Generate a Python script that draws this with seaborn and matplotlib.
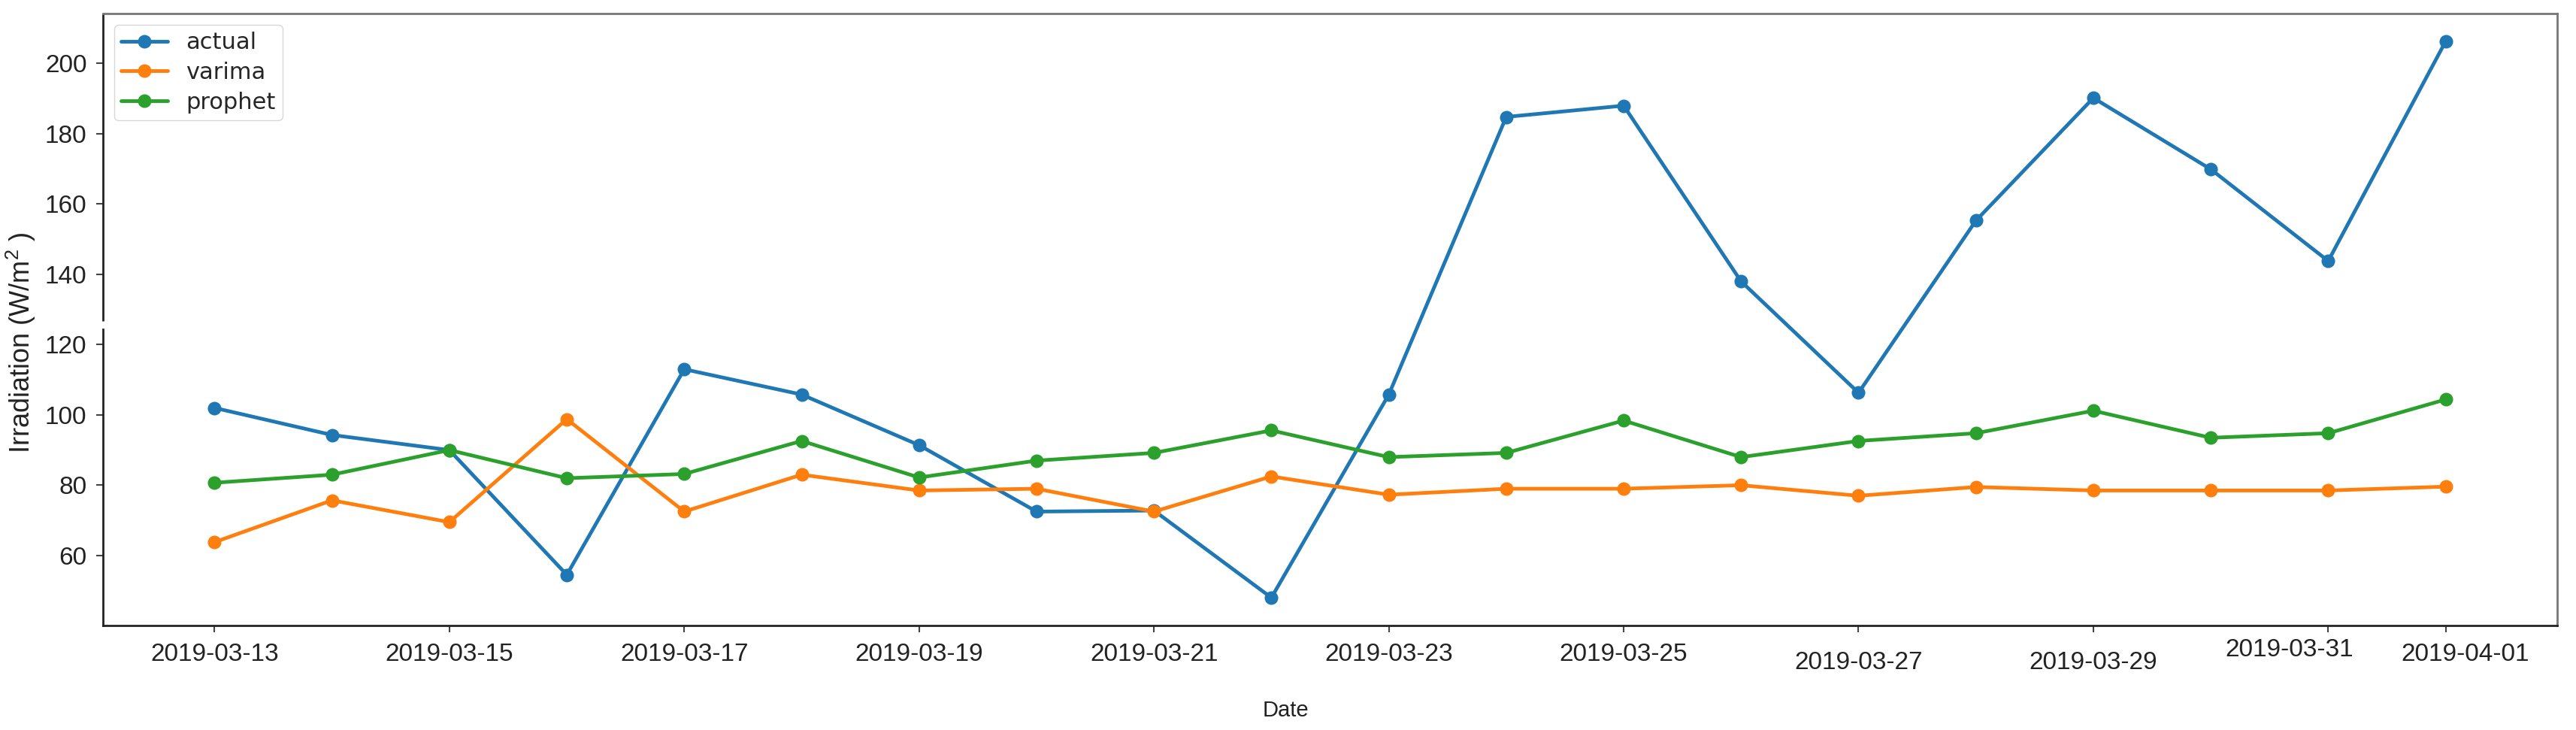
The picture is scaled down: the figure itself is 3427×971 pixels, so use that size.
import pandas as pd
import seaborn as sns
import matplotlib.pyplot as plt
from matplotlib.transforms import ScaledTranslation

# Dados
datas = pd.date_range('2019-03-13', '2019-04-01', freq='D')
actual = [102.0, 94.3, 90.0, 54.5, 113.0, 105.8, 91.4, 72.5, 72.8, 48.0,
          105.8, 184.8, 188.0, 138.0, 106.3, 155.3, 190.2, 169.9, 143.8, 206.3]
varima = [63.8, 75.7, 69.5, 98.8, 72.5, 83.0, 78.5, 79.0, 72.5, 82.5,
          77.3, 79.0, 79.0, 80.0, 77.0, 79.5, 78.5, 78.5, 78.5, 79.6]
prophet = [80.7, 83.0, 90.0, 82.0, 83.2, 92.6, 82.2, 87.0, 89.2, 95.6,
           88.0, 89.2, 98.4, 88.0, 92.6, 94.8, 101.2, 93.5, 94.8, 104.4]
ticks_x = ['2019-03-13', '2019-03-15', '2019-03-17', '2019-03-19', '2019-03-21', '2019-03-23',
           '2019-03-25', '2019-03-27', '2019-03-29', '2019-03-31', '2019-04-01']
series = ['actual', 'varima', 'prophet']
cores = ['#1f77b4', '#ff7f0e', '#2ca02c']

df = pd.DataFrame({'Date': datas, 'actual': actual, 'varima': varima, 'prophet': prophet})

sns.set_style('white')
plt.rcParams['font.family'] = ['Liberation Sans', 'DejaVu Sans']
plt.rcParams['mathtext.fontset'] = 'custom'
plt.rcParams['mathtext.rm'] = 'Liberation Sans'
plt.rcParams['mathtext.it'] = 'Liberation Sans:italic'

fig = plt.figure(figsize=(34.27, 9.71), dpi=100)
ax = fig.add_axes([137 / 3427, 1 - 832 / 971, (3402 - 137) / 3427, (832 - 18) / 971])

for nome, cor in zip(series, cores):
    sns.lineplot(x='Date', y=nome, data=df, ax=ax, label=nome, color=cor,
                 marker='o', markersize=13, markeredgewidth=0, linewidth=3.5)

# Eixo x com as datas
ax.set_xticks(pd.to_datetime(ticks_x))
ax.set_xticklabels(ticks_x)
ax.tick_params(axis='both', bottom=True, left=True, length=6.5, width=1.5,
               color='#444444', labelsize=24, labelcolor='#222222')
ax.tick_params(axis='x', pad=10)
ax.tick_params(axis='y', pad=9)

# pequenos deslocamentos dos rótulos, como no original
desloc = {'2019-03-27': (0, -8), '2019-03-29': (0, -8),
          '2019-03-31': (-37, 4), '2019-04-01': (19, 0)}
for lbl in ax.get_xticklabels():
    if lbl.get_text() in desloc:
        dx, dy = desloc[lbl.get_text()]
        lbl.set_transform(lbl.get_transform() + ScaledTranslation(dx / 72, dy / 72, fig.dpi_scale_trans))

ax.set_xlabel('Date', fontsize=21, color='#222222')
ax.set_ylabel('Irradiation (W/m$^2$ )', fontsize=26, color='#222222')
ax.xaxis.set_label_coords(0.482, -0.122)
ax.yaxis.set_label_coords(-0.0266, 0.462)

# Bordas: esquerda com uma pequena quebra
for lado in ['top', 'right']:
    ax.spines[lado].set_color('#777777')
    ax.spines[lado].set_linewidth(2)
for lado in ['left', 'bottom']:
    ax.spines[lado].set_color('#222222')
    ax.spines[lado].set_linewidth(2)
y_min, y_max = ax.get_ylim()
ax.spines['left'].set_bounds(y_min, 124.4)
ax.plot([0, 0], [126.7, y_max], transform=ax.get_yaxis_transform(), clip_on=False,
        color='#222222', linewidth=2, solid_capstyle='butt')
ax.set_ylim(y_min, y_max)

ax.legend(loc='upper left', prop={'family': 'DejaVu Sans', 'size': 22},
          labelspacing=0.35, borderpad=0.3, handlelength=2.0)

plt.savefig('out.png', dpi=100)
